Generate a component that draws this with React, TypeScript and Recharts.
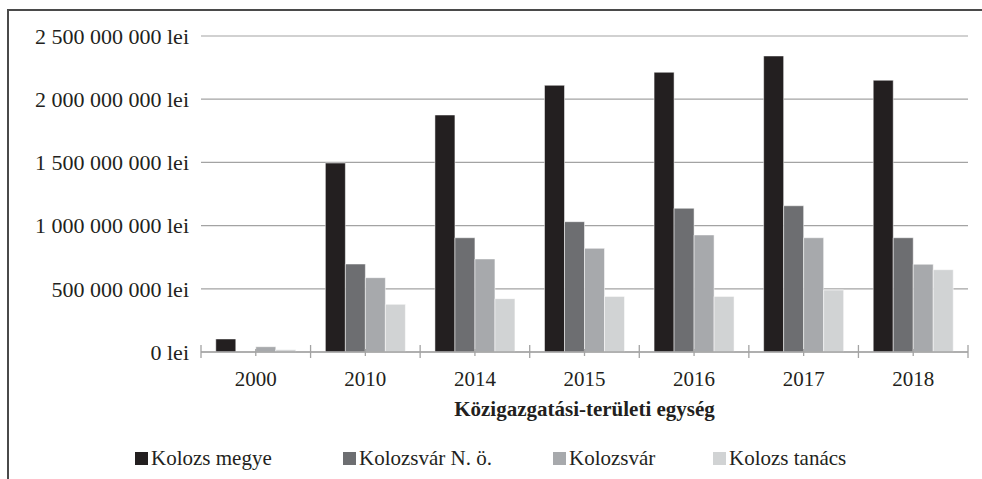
import React from "react";
import { BarChart, Bar, XAxis, YAxis, CartesianGrid } from "recharts";

const YEARS = ["2000", "2010", "2014", "2015", "2016", "2017", "2018"];
const KOLOZS_MEGYE = [103e6, 1495e6, 1875e6, 2110e6, 2213e6, 2342e6, 2150e6];
const KOLOZSVAR_NO = [0, 696e6, 904e6, 1031e6, 1137e6, 1157e6, 904e6];
const KOLOZSVAR = [42e6, 588e6, 736e6, 820e6, 926e6, 904e6, 694e6];
const KOLOZS_TANACS = [18e6, 377e6, 422e6, 440e6, 440e6, 490e6, 651e6];
const Y_TICKS = [0, 5e8, 1e9, 1.5e9, 2e9, 2.5e9];

const SERIES = [
  { key: "megye", name: "Kolozs megye", values: KOLOZS_MEGYE, color: "#231f20" },
  { key: "no", name: "Kolozsvár N. ö.", values: KOLOZSVAR_NO, color: "#6d6e71" },
  { key: "kv", name: "Kolozsvár", values: KOLOZSVAR, color: "#a7a9ac" },
  { key: "tanacs", name: "Kolozs tanács", values: KOLOZS_TANACS, color: "#d1d3d4" },
];

const data = YEARS.map((year, i) => {
  const row: Record<string, string | number> = { year };
  SERIES.forEach((s) => (row[s.key] = s.values[i]));
  return row;
});

const FONT = "'Liberation Serif', 'Times New Roman', serif";
const TEXT = "#231f20";
const AXIS = "#a3a3a3";
const W = 982;
const H = 479;
const MARGIN = { top: 36, right: 14, left: 0, bottom: 0 };
const Y_W = 201;
const X_H = 127;
const BAND = (W - MARGIN.left - MARGIN.right - Y_W) / YEARS.length;

const fmt = (v: number) =>
  String(Math.round(v)).replace(/\B(?=(\d{3})+(?!\d))/g, " ") + " lei";

const XTick = (props: any) => {
  const { x, y, payload, index } = props;
  const last = index === YEARS.length - 1;
  return (
    <g>
      <line x1={x} x2={x} y1={y - 3} y2={y + 4} stroke={AXIS} strokeWidth={1.3} />
      <line x1={x - BAND / 2} x2={x - BAND / 2} y1={y - 7} y2={y + 6} stroke={AXIS} strokeWidth={1.3} />
      {last && (
        <line x1={x + BAND / 2} x2={x + BAND / 2} y1={y - 7} y2={y + 6} stroke={AXIS} strokeWidth={1.3} />
      )}
      <text x={x} y={y + 34} textAnchor="middle" fill={TEXT} fontSize={21} fontFamily={FONT}>
        {payload.value}
      </text>
    </g>
  );
};

const YTick = (props: any) => {
  const { x, y, payload } = props;
  return (
    <text x={x} y={y} dy="0.355em" textAnchor="end" fill={TEXT} fontSize={22} fontFamily={FONT}>
      {fmt(payload.value)}
    </text>
  );
};

const AxisTitle = (props: any) => {
  const vb = props.viewBox;
  return (
    <text
      x={vb.x + vb.width / 2}
      y={vb.y + 57}
      dy="0.355em"
      textAnchor="middle"
      fill={TEXT}
      fontSize={21}
      fontWeight="bold"
      fontFamily={FONT}
    >
      Közigazgatási-területi egység
    </text>
  );
};

const LEGEND_SLOTS = [208, 210, 160, 160];

export default function App() {
  return (
    <div style={{ position: "absolute", left: 0, top: 0, width: W, height: H, overflow: "hidden", background: "#fff" }}>
      <div
        style={{
          position: "absolute",
          left: 7,
          top: 9,
          width: 1100,
          height: 600,
          borderLeft: "2px solid #4a4a4a",
          borderTop: "2px solid #4a4a4a",
        }}
      />
      <div style={{ position: "absolute", left: 0, top: 0 }}>
        <BarChart width={W} height={H} data={data} margin={MARGIN} barCategoryGap="13.5%" barGap={0}>
          <CartesianGrid vertical={false} stroke={AXIS} strokeWidth={1.2} />
          <XAxis
            dataKey="year"
            height={X_H}
            axisLine={{ stroke: AXIS, strokeWidth: 1.5 }}
            tickLine={false}
            tickSize={0}
            tickMargin={0}
            tick={<XTick />}
            interval={0}
            label={<AxisTitle />}
          />
          <YAxis
            width={Y_W}
            domain={[0, 2.5e9]}
            ticks={Y_TICKS}
            axisLine={false}
            tickLine={false}
            tickSize={0}
            tickMargin={12}
            tick={<YTick />}
            interval={0}
          />
          {SERIES.map((s) => (
            <Bar
              key={s.key}
              dataKey={s.key}
              name={s.name}
              fill={s.color}
              stroke="#ffffff"
              strokeWidth={0.5}
              isAnimationActive={false}
            />
          ))}
        </BarChart>
      </div>
      <div
        style={{
          position: "absolute",
          left: 135,
          top: 446,
          display: "flex",
          alignItems: "center",
          fontFamily: FONT,
          fontSize: 21,
          color: TEXT,
          whiteSpace: "nowrap",
        }}
      >
        {SERIES.map((s, i) => (
          <div key={s.key} style={{ display: "flex", alignItems: "center", width: LEGEND_SLOTS[i] }}>
            <span style={{ display: "inline-block", width: 13, height: 13, background: s.color, marginRight: 3 }} />
            <span>{s.name}</span>
          </div>
        ))}
      </div>
    </div>
  );
}
